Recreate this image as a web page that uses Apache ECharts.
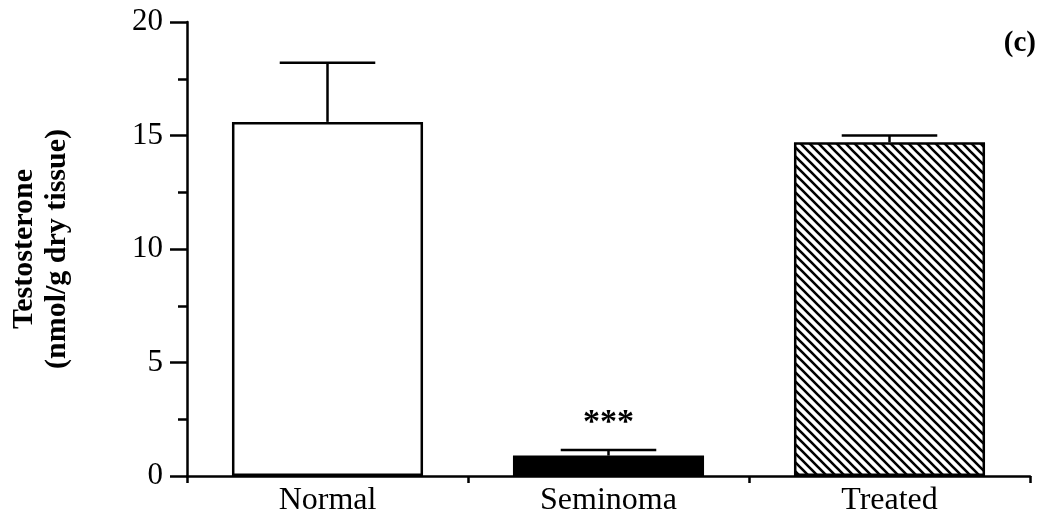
<!DOCTYPE html>
<html>
<head>
<meta charset="utf-8">
<script src="https://cdn.jsdelivr.net/npm/echarts@6/dist/echarts.min.js"></script>
<style>
  html, body { margin: 0; padding: 0; background: #fff; }
  #chart { width: 1050px; height: 520px; }
</style>
</head>
<body>
<div id="chart"></div>
<script>
// Testosterone content per group (mean and SEM, nmol/g dry tissue)
const groups = ['Normal', 'Seminoma', 'Treated'];
const means = [15.6, 0.9, 14.7];
const sems = [2.6, 0.25, 0.3];
const marks = ['', '***', ''];
const yTicks = [0, 5, 10, 15, 20];

const SERIF = '"Liberation Serif", "DejaVu Serif", serif';
const BAR_RATIO = 0.68;

// Diagonal hatch tile for the treated group
function hatchPattern() {
  const s = 9;
  const c = document.createElement('canvas');
  c.width = s; c.height = s;
  const g = c.getContext('2d');
  g.fillStyle = '#fff';
  g.fillRect(0, 0, s, s);
  g.strokeStyle = '#000';
  g.lineWidth = 2.6;
  g.beginPath();
  g.moveTo(-2, -2); g.lineTo(s + 2, s + 2);
  g.moveTo(-2, s - 2); g.lineTo(2, s + 2);
  g.moveTo(s - 2, -2); g.lineTo(s + 2, 2);
  g.stroke();
  return { image: c, repeat: 'repeat' };
}

const fills = ['#ffffff', '#000000', hatchPattern()];

const chart = echarts.init(document.getElementById('chart'), null, { renderer: 'canvas' });

chart.setOption({
  backgroundColor: '#ffffff',
  animation: false,
  grid: { left: 183, right: 20, top: 22, bottom: 44 },
  title: {
    text: '(c)',
    right: 9,
    top: 24,
    textStyle: { fontFamily: SERIF, fontWeight: 'bold', fontSize: 29, color: '#000' }
  },
  xAxis: {
    type: 'category',
    data: groups,
    boundaryGap: true,
    axisLine: { lineStyle: { color: '#000', width: 2.5 } },
    axisTick: { show: true, inside: false, length: 7, lineStyle: { color: '#000', width: 2.5 } },
    axisLabel: { color: '#000', fontFamily: SERIF, fontSize: 32, margin: 9 }
  },
  yAxis: {
    type: 'value',
    min: yTicks[0],
    max: yTicks[yTicks.length - 1],
    interval: yTicks[1] - yTicks[0],
    name: 'Testosterone\n(nmol/g dry tissue)',
    nameLocation: 'middle',
    nameRotate: 90,
    nameGap: 113,
    nameTextStyle: { color: '#000', fontFamily: SERIF, fontWeight: 'bold', fontSize: 30, lineHeight: 33 },
    splitLine: { show: false },
    axisLine: { show: true, lineStyle: { color: '#000', width: 2.5 } },
    axisTick: { show: true, inside: false, length: 17, lineStyle: { color: '#000', width: 2.5 } },
    minorTick: { show: true, splitNumber: 2, length: 9, lineStyle: { color: '#000', width: 2.5 } },
    axisLabel: { color: '#000', fontFamily: SERIF, fontSize: 31, margin: 24 }
  },
  series: [
    {
      type: 'bar',
      barWidth: (BAR_RATIO * 100) + '%',
      data: means.map((v, i) => ({
        value: v,
        itemStyle: { color: fills[i], borderColor: '#000', borderWidth: 2.5 }
      })),
      z: 2
    },
    {
      // upper error bars with caps, plus significance marks
      type: 'custom',
      data: means.map((v, i) => [i, v, v + sems[i]]),
      renderItem: function (params, api) {
        const i = api.value(0);
        const base = api.coord([i, api.value(1)]);
        const top = api.coord([i, api.value(2)]);
        const band = api.size([1, 0])[0];
        const half = band * BAR_RATIO * 0.25;
        const style = { stroke: '#000', lineWidth: 2.5, fill: null };
        const children = [
          { type: 'line', shape: { x1: base[0], y1: base[1], x2: top[0], y2: top[1] }, style: style },
          { type: 'line', shape: { x1: top[0] - half, y1: top[1], x2: top[0] + half, y2: top[1] }, style: style }
        ];
        if (marks[i]) {
          children.push({
            type: 'text',
            style: {
              text: marks[i], x: top[0], y: top[1] - 10,
              align: 'center', verticalAlign: 'bottom',
              fontFamily: SERIF, fontWeight: 'bold', fontSize: 34, fill: '#000'
            }
          });
        }
        return { type: 'group', children: children };
      },
      z: 3
    }
  ]
});
</script>
</body>
</html>
